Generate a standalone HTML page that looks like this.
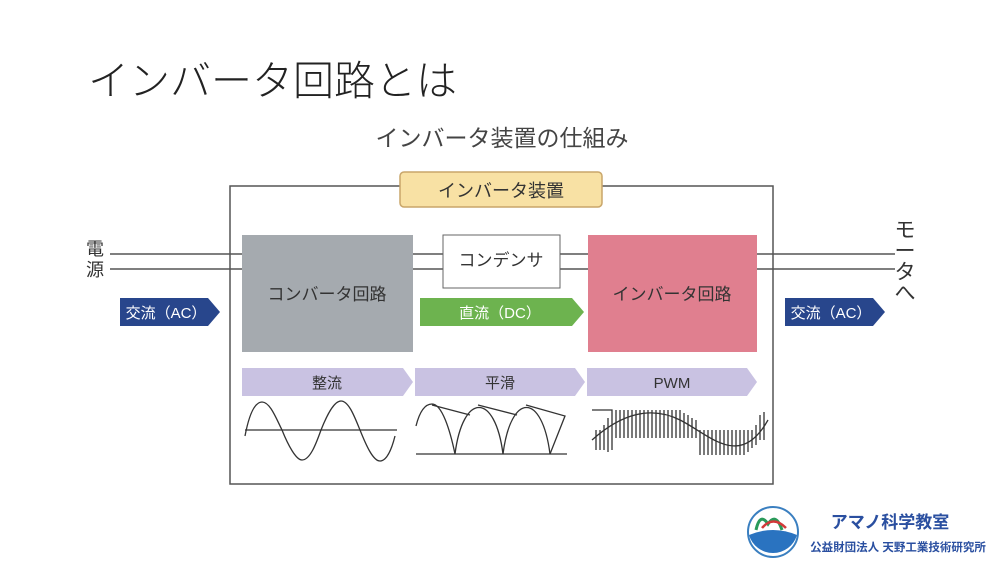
<!DOCTYPE html>
<html><head><meta charset="utf-8"><style>
html,body{margin:0;padding:0;background:#fff;}
svg{display:block;font-family:"Liberation Sans","Noto Sans CJK JP",sans-serif;}
</style></head><body>
<svg width="1000" height="563" viewBox="0 0 1000 563" xmlns="http://www.w3.org/2000/svg">
<text x="88" y="95" font-size="41" fill="#222" font-weight="300">インバータ回路とは</text>
<text x="502" y="146" font-size="23" fill="#444" text-anchor="middle">インバータ装置の仕組み</text>
<rect x="230" y="186" width="543" height="298" fill="none" stroke="#555" stroke-width="1.5"/>
<rect x="400" y="172" width="202" height="35" rx="4" fill="#f8e1a4" stroke="#c9a66a" stroke-width="1.5"/>
<text x="501" y="197" font-size="18" fill="#333" text-anchor="middle">インバータ装置</text>
<g stroke="#555" stroke-width="1.5">
<line x1="110" y1="254" x2="895" y2="254"/><line x1="110" y1="269" x2="895" y2="269"/>
</g>
<text x="95" y="255" font-size="18" fill="#333" text-anchor="middle">電</text>
<text x="95" y="276" font-size="18" fill="#333" text-anchor="middle">源</text>
<g font-size="21" fill="#333" text-anchor="middle">
<text x="905" y="237">モ</text><text x="905" y="258">ー</text><text x="905" y="279">タ</text><text x="905" y="300">へ</text>
</g>
<rect x="242" y="235" width="171" height="117" fill="#a5aaaf"/>
<text x="327" y="300" font-size="17" fill="#333" text-anchor="middle">コンバータ回路</text>
<rect x="588" y="235" width="169" height="117" fill="#e07f8f"/>
<text x="672" y="300" font-size="17" fill="#333" text-anchor="middle">インバータ回路</text>
<rect x="443" y="235" width="117" height="53" fill="#fff" stroke="#666" stroke-width="1"/>
<text x="501" y="266" font-size="17" fill="#333" text-anchor="middle">コンデンサ</text>
<polygon points="420,298 572,298 584,312 572,326 420,326" fill="#6db34f"/>
<text x="500" y="318" font-size="15" fill="#fff" text-anchor="middle">直流（DC）</text>
<polygon points="120,298 208,298 220,312 208,326 120,326" fill="#28468c"/>
<text x="166" y="318" font-size="15" fill="#fff" text-anchor="middle">交流（AC）</text>
<polygon points="785,298 873,298 885,312 873,326 785,326" fill="#28468c"/>
<text x="831" y="318" font-size="15" fill="#fff" text-anchor="middle">交流（AC）</text>
<g fill="#c9c2e2">
<polygon points="242,368 403,368 413,382 403,396 242,396"/>
<polygon points="415,368 575,368 585,382 575,396 415,396"/>
<polygon points="587,368 747,368 757,382 747,396 587,396"/>
</g>
<g font-size="15" fill="#333" text-anchor="middle">
<text x="327" y="388">整流</text><text x="500" y="388">平滑</text><text x="672" y="388">PWM</text>
</g>
<g fill="none" stroke="#333" stroke-width="1.3">
<line x1="245" y1="430" x2="397" y2="430"/>
<path d="M245,436 C250,410 256,402 262,402 C270,402 276,418 282,430 C288,445 296,460 302,460 C310,460 316,444 321,430 C327,415 334,401 341,401 C349,401 355,418 360,430 C366,445 373,461 380,461 C387,461 392,448 395,436"/>
<line x1="416" y1="454" x2="567" y2="454"/>
<path d="M416,426 C420,410 426,404 432,404 C442,404 450,430 455,454"/>
<path d="M455,454 C463,392 495,392 503,454"/>
<path d="M503,454 C511,392 542,392 550,454"/>
<path d="M432,405 L470,415 M478,405 L517,415 M526,405 L565,416 L550,454"/>
<path d="M592,440 C620,415 650,405 680,420 S740,470 768,420"/>
<path d="M592,410 H612 V450 M596,430 V450 M600,430 V450 M604,425 V450 M608,418 V452 M616,410 V438 M620,410 V438 M624,410 V438 M628,410 V438 M632,410 V438 M636,410 V438 M640,410 V438 M644,410 V438 M648,410 V438 M652,410 V438 M656,410 V438 M660,410 V438 M664,410 V438 M668,410 V438 M672,410 V438 M676,410 V438 M680,410 V438 M684,413 V438 M688,415 V438 M692,418 V438 M696,420 V438 M700,430 V455 M704,430 V455 M708,430 V455 M712,430 V455 M716,430 V455 M720,430 V455 M724,430 V455 M728,430 V455 M732,430 V455 M736,430 V455 M740,430 V455 M744,430 V455 M748,430 V452 M752,430 V448 M756,425 V445 M760,415 V440 M764,412 V440"/>
</g>
<circle cx="773" cy="532" r="25" fill="#fff" stroke="#3a7fc0" stroke-width="2"/>
<path d="M749,535 Q773,525 797,535 A25,25 0 0 1 749,535 Z" fill="#2a73c0"/>
<path d="M756,530 Q760,512 768,524 Q776,512 782,530" fill="none" stroke="#2a9a5a" stroke-width="3"/>
<path d="M762,528 Q773,515 786,528" fill="none" stroke="#d23a3a" stroke-width="2.5"/>
<text x="890" y="528" font-size="17" font-weight="bold" fill="#2a4fa0" text-anchor="middle">アマノ科学教室</text>
<text x="898" y="551" font-size="11.5" font-weight="bold" fill="#2a4fa0" text-anchor="middle">公益財団法人 天野工業技術研究所</text>
</svg>
</body></html>
